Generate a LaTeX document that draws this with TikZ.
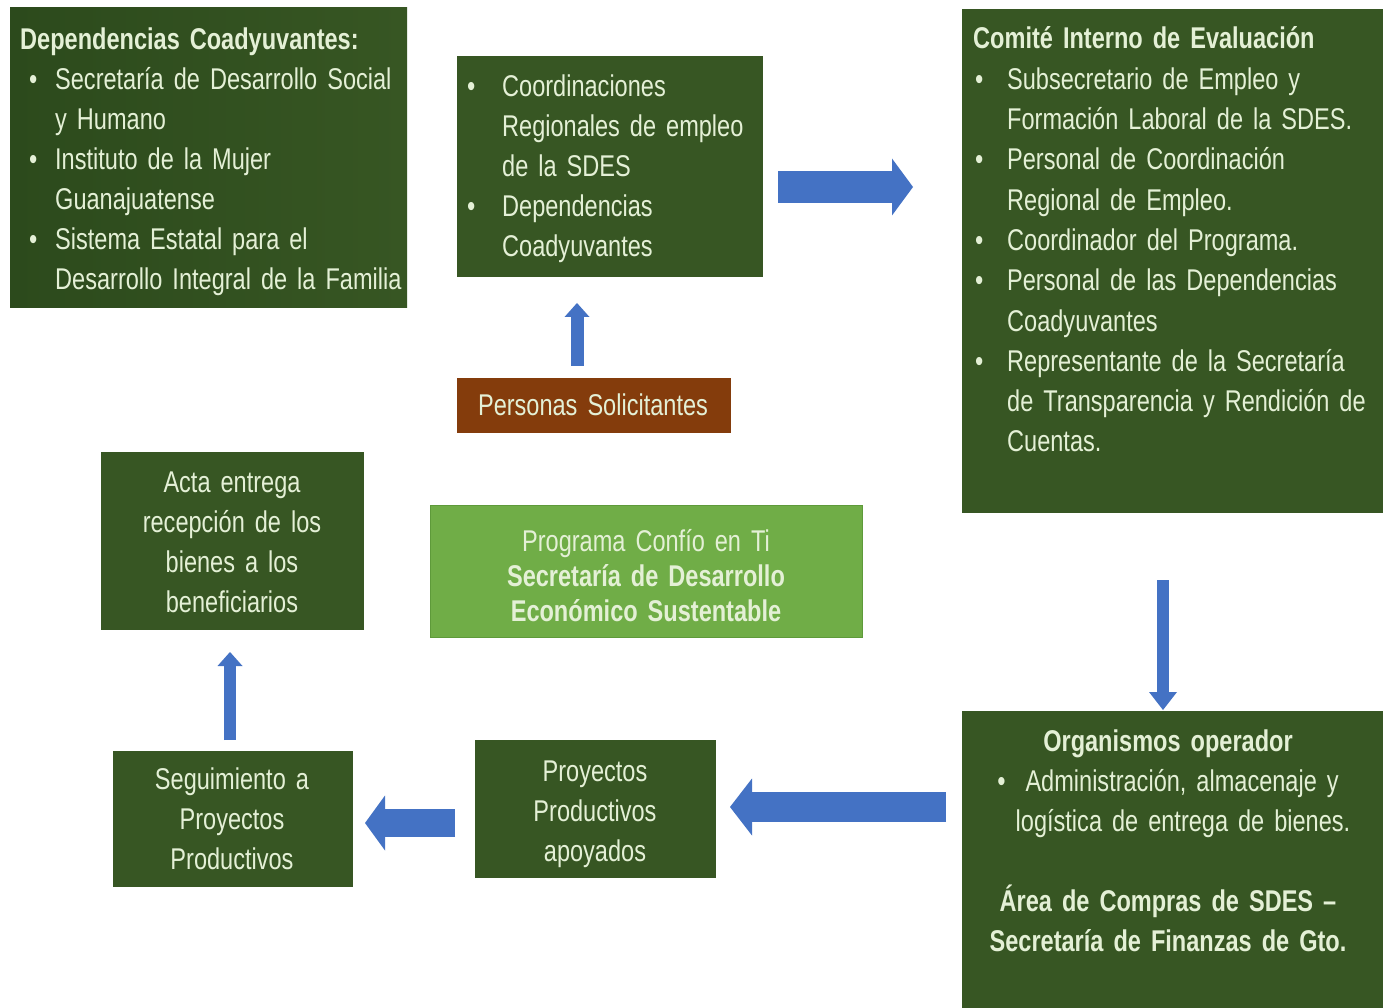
\documentclass[tikz,border=0pt]{standalone}
\usepackage{fontspec}
\setmainfont{Liberation Sans}[FakeStretch=0.785,WordSpace=0.7]
\usetikzlibrary{arrows.meta}
\definecolor{dkgreen}{HTML}{375623}
\definecolor{dkgreenA}{HTML}{2C4A1C}
\definecolor{ltgreen}{HTML}{70AD47}
\definecolor{ltgreenE}{HTML}{5E9A3A}
\definecolor{brownbox}{HTML}{843C0C}
\definecolor{arrowblue}{HTML}{4472C4}
\definecolor{txt}{HTML}{E4F0D6}
\newlength\bulind \newlength\bulpre
\newcommand\bul[1]{\hangindent=\bulind\hangafter=1\relax\makebox[\bulind][l]{\hspace*{\bulpre}\textbullet}#1}
\tikzset{
  box/.style={fill=dkgreen, draw=none, inner sep=0pt},
  txtnode/.style={inner sep=0pt, text=txt, font=\fontsize{30pt}{40pt}\selectfont, align=left},
  ctxt/.style={inner sep=0pt, text=txt, font=\fontsize{30pt}{40pt}\selectfont, align=center},
  barrow/.style n args={3}{line width=#1, draw=arrowblue, -{Triangle[width=#2,length=#3,line width=0pt]}}
}
\begin{document}
\begin{tikzpicture}[x=1pt,y=-1pt]
\useasboundingbox (0,0) rectangle (1385,1008);
\fill[white] (0,0) rectangle (1385,1008);

% boxes
\node[box, left color=dkgreenA, right color=dkgreen, minimum width=397pt, minimum height=300pt] (b1) at (208.5,158) {};
\node[box, minimum width=306pt, minimum height=221pt] (b2) at (610,166.5) {};
\node[box, minimum width=421pt, minimum height=504pt] (b3) at (1172.5,261) {};
\node[box, fill=brownbox, minimum width=274pt, minimum height=55pt] (b4) at (594,405.5) {};
\node[box, minimum width=263pt, minimum height=178pt] (b5) at (232.5,541) {};
\node[box, fill=ltgreen, draw=ltgreenE, line width=1pt, minimum width=432pt, minimum height=132pt] (b6) at (646,571) {};
\node[box, minimum width=421pt, minimum height=297pt] (b7) at (1172.5,859.5) {};
\node[box, minimum width=241pt, minimum height=138pt] (b8) at (595.5,809) {};
\node[box, minimum width=240pt, minimum height=136pt] (b9) at (233,819) {};

% texts
\node[txtnode, anchor=base west, text width=420pt] (t1) at (20,50) {\setlength\bulind{35pt}\setlength\bulpre{9pt}\textbf{Dependencias Coadyuvantes:}\par
\bul{Secretaría de Desarrollo Social\newline y Humano}\par
\bul{Instituto de la Mujer\newline Guanajuatense}\par
\bul{Sistema Estatal para el\newline Desarrollo Integral de la Familia}\par};

\node[txtnode, anchor=base west, text width=320pt] (t2) at (467,97) {\setlength\bulind{35pt}\setlength\bulpre{0pt}\bul{Coordinaciones\newline Regionales de empleo\newline de la SDES}\par
\bul{Dependencias\newline Coadyuvantes}\par};

\node[txtnode, anchor=base west, text width=420pt, font=\fontsize{30pt}{40.3pt}\selectfont] (t3) at (973,49) {\setlength\bulind{34pt}\setlength\bulpre{2pt}\textbf{Comité Interno de Evaluación}\par
\bul{Subsecretario de Empleo y\newline Formación Laboral de la SDES.}\par
\bul{Personal de Coordinación\newline Regional de Empleo.}\par
\bul{Coordinador del Programa.}\par
\bul{Personal de las Dependencias\newline Coadyuvantes}\par
\bul{Representante de la Secretaría\newline de Transparencia y Rendición de\newline Cuentas.}\par};

\node[ctxt, anchor=base, text width=274pt] (t4) at (593,416) {Personas Solicitantes};

\node[ctxt, anchor=base, text width=263pt] (t5) at (232,492) {Acta entrega\\recepción de los\\bienes a los\\beneficiarios};

\node[ctxt, anchor=base, text width=432pt, font=\fontsize{30pt}{35pt}\selectfont] (t6) at (646,551) {Programa Confío en Ti\\\textbf{Secretaría de Desarrollo}\\\textbf{Económico Sustentable}};

\node[ctxt, anchor=base, text width=420pt] (t7) at (1168,751) {\textbf{Organismos operador}\\
\textbullet\hspace{20pt}Administración, almacenaje y\\
\hspace*{30pt}logística de entrega de bienes.\\[40pt]
\textbf{Área de Compras de SDES –}\\
\textbf{Secretaría de Finanzas de Gto.}};

\node[ctxt, anchor=base, text width=241pt] (t8) at (595,781) {Proyectos\\Productivos\\apoyados};

\node[ctxt, anchor=base, text width=240pt] (t9) at (232,789) {Seguimiento a\\Proyectos\\Productivos};

% arrow end points
\coordinate (a1s) at (778,187);  \coordinate (a1e) at (913,187);
\coordinate (a2s) at (577,366);  \coordinate (a2e) at (577,303);
\coordinate (a3s) at (1163,580); \coordinate (a3e) at (1163,710);
\coordinate (a4s) at (946,807);  \coordinate (a4e) at (730,807);
\coordinate (a5s) at (455,823);  \coordinate (a5e) at (365,823);
\coordinate (a6s) at (230,740);  \coordinate (a6e) at (230,652);

\draw[barrow={32pt}{57pt}{21pt}] (a1s) -- (a1e);
\draw[barrow={13pt}{25pt}{14pt}] (a2s) -- (a2e);
\draw[barrow={12pt}{28pt}{18pt}] (a3s) -- (a3e);
\draw[barrow={30pt}{57pt}{22pt}] (a4s) -- (a4e);
\draw[barrow={28pt}{55pt}{20pt}] (a5s) -- (a5e);
\draw[barrow={12pt}{25pt}{14pt}] (a6s) -- (a6e);
\end{tikzpicture}
\end{document}
